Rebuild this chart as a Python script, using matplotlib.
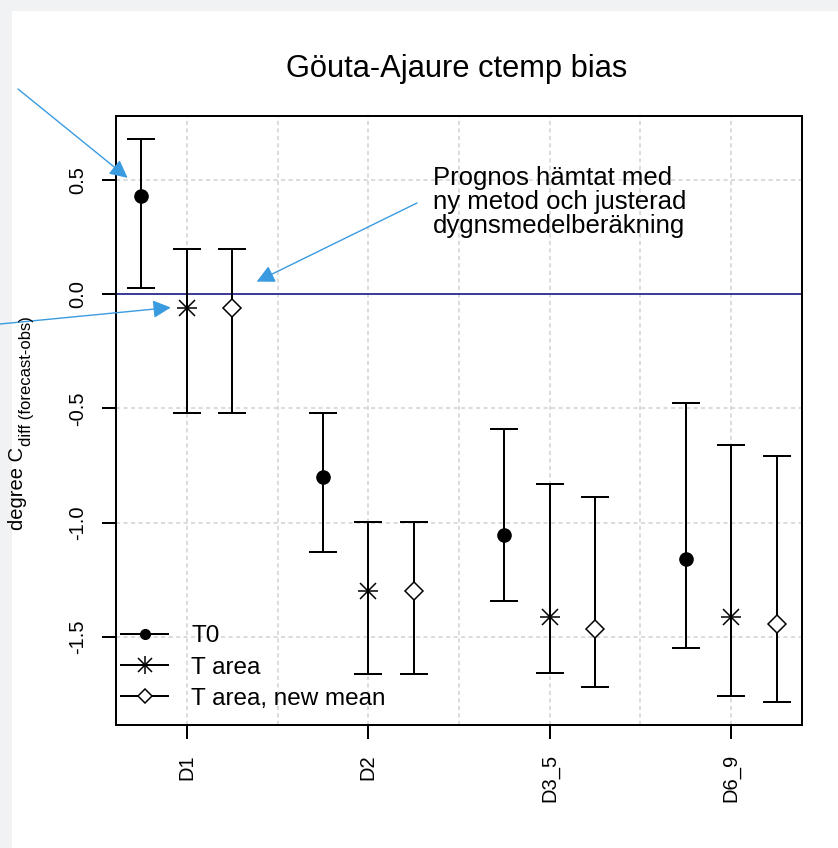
import numpy as np
from matplotlib import pyplot as plt
from matplotlib.lines import Line2D
from matplotlib.patches import Rectangle

plt.rcParams['font.family'] = ['Liberation Sans', 'DejaVu Sans']

# Values.
categories = ['D1', 'D2', 'D3_5', 'D6_9']
t0_mean = [0.43, -0.80, -1.055, -1.16]
t0_lower = [0.025, -1.13, -1.345, -1.55]
t0_upper = [0.68, -0.52, -0.59, -0.477]
tarea_mean = [-0.06, -1.30, -1.413, -1.413]
tarea_lower = [-0.522, -1.664, -1.657, -1.757]
tarea_upper = [0.197, -0.997, -0.83, -0.66]
newmean_mean = [-0.06, -1.30, -1.466, -1.444]
newmean_lower = [-0.522, -1.664, -1.718, -1.787]
newmean_upper = [0.197, -0.997, -0.89, -0.707]
legend_labels = ['T0', 'T area', 'T area, new mean']
title = 'Göuta-Ajaure ctemp bias'
note = 'Prognos hämtat med\nny metod och justerad\ndygnsmedelberäkning'

W, H = 838, 848
def fx(x):
	return x / W
def fy(y):
	return 1 - y / H

fig = plt.figure(figsize=(W / 100, H / 100), dpi=100, facecolor='#f1f2f4')
fig.add_artist(Rectangle((fx(12), 0), fx(W - 12), fy(11), transform=fig.transFigure,
	facecolor='white', edgecolor='none', zorder=-5))
ax = fig.add_axes([fx(116), fy(725), fx(802 - 116), (725 - 116) / H])

pos = np.arange(1, len(categories) + 1)
offsets = [-0.25, 0.0, 0.25]
lw = 1.44
err_kw = dict(fmt='none', ecolor='black', elinewidth=lw, capsize=10, capthick=lw, zorder=3)

series = [(t0_mean, t0_lower, t0_upper), (tarea_mean, tarea_lower, tarea_upper),
	(newmean_mean, newmean_lower, newmean_upper)]
for off, (m, lo, up) in zip(offsets, series):
	m = np.asarray(m); lo = np.asarray(lo); up = np.asarray(up)
	ax.errorbar(pos + off, m, yerr=[m - lo, up - m], **err_kw)

ax.plot(pos + offsets[0], t0_mean, 'o', color='black', ms=9.5, ls='none', zorder=4)
ax.plot(pos + offsets[1], tarea_mean, '+', color='black', ms=15, mew=1.1, ls='none', zorder=4)
ax.plot(pos + offsets[1], tarea_mean, 'x', color='black', ms=11, mew=1.1, ls='none', zorder=4)
ax.plot(pos + offsets[2], newmean_mean, 'D', mec='black', mfc='white', ms=9, mew=1.1,
	ls='none', zorder=4)

ax.axhline(0, color='#3a3a96', lw=1.4, zorder=2)

# R-style axis limits (4% extension).
allv = np.concatenate([t0_lower, t0_upper, tarea_lower, tarea_upper, newmean_lower, newmean_upper])
ymin, ymax = allv.min(), allv.max()
xmin, xmax = pos[0] + offsets[0], pos[-1] + offsets[-1]
ax.set_xlim(xmin - 0.04 * (xmax - xmin), xmax + 0.04 * (xmax - xmin))
ax.set_ylim(ymin - 0.04 * (ymax - ymin), ymax + 0.04 * (ymax - ymin))

ax.set_xticks(pos)
ax.set_xticklabels(categories, rotation=90, fontsize=14.5)
ax.set_xticks(pos[:-1] + 0.5, minor=True)
yt = [-1.5, -1.0, -0.5, 0.0, 0.5]
ax.set_yticks(yt)
ax.set_yticklabels(['%.1f' % v for v in yt], rotation=90, va='center', fontsize=14.5)
ax.tick_params(axis='both', which='major', length=10, width=lw, color='black', pad=11)
ax.tick_params(axis='x', which='minor', length=0)
ax.grid(True, which='both', color='#d6d6d6', linestyle=(0, (2.5, 2)), linewidth=1.2)
ax.set_axisbelow(True)
for s in ax.spines.values():
	s.set_linewidth(lw)

# Legend.
h_t0 = Line2D([], [], color='black', lw=lw, marker='o', ms=7)
h_ta = (Line2D([], [], color='black', lw=lw, marker='+', ms=13, mew=1.1),
	Line2D([], [], color='none', marker='x', mec='black', ms=9.5, mew=1.1))
h_nm = Line2D([], [], color='black', lw=lw, marker='D', mfc='white', mec='black', ms=7.5, mew=1.1)
ax.legend([h_t0, h_ta, h_nm], legend_labels, loc='lower left',
	bbox_to_anchor=((121 - 116) / 686, (725 - 710) / 609), frameon=False,
	fontsize=17.5, handlelength=1.95, handletextpad=0.95, labelspacing=0.38,
	borderpad=0, borderaxespad=0)

fig.text(fx(457), fy(77), title, ha='center', va='baseline', fontsize=22.2)
fig.text(fx(433), fy(166), note, ha='left', va='top', fontsize=18.5, linespacing=1.0)

# Y label: "degree C" with subscript.
fig.text(fx(22.7), fy(530), 'degree C', rotation=90, rotation_mode='anchor',
	ha='left', va='baseline', fontsize=14.5)
fig.text(fx(30.7), fy(446), 'diff (forecast-obs)', rotation=90, rotation_mode='anchor',
	ha='left', va='baseline', fontsize=12)

# Blue arrows.
arrow_col = '#3a9be0'
aprops = dict(arrowstyle='-|>', color=arrow_col, lw=1.0, mutation_scale=27, shrinkA=0, shrinkB=0)
ax.annotate('', xy=(0.674, 0.508), xycoords='data', xytext=(fx(18), fy(89)),
	textcoords='figure fraction', arrowprops=aprops, annotation_clip=False)
ax.annotate('', xy=(0.912, -0.059), xycoords='data', xytext=(0.0, fy(324)),
	textcoords='figure fraction', arrowprops=aprops, annotation_clip=False)
ax.annotate('', xy=(1.385, 0.054), xycoords='data', xytext=(fx(417), fy(203)),
	textcoords='figure fraction', arrowprops=aprops, annotation_clip=False)

fig.savefig('out.png', dpi=100)
